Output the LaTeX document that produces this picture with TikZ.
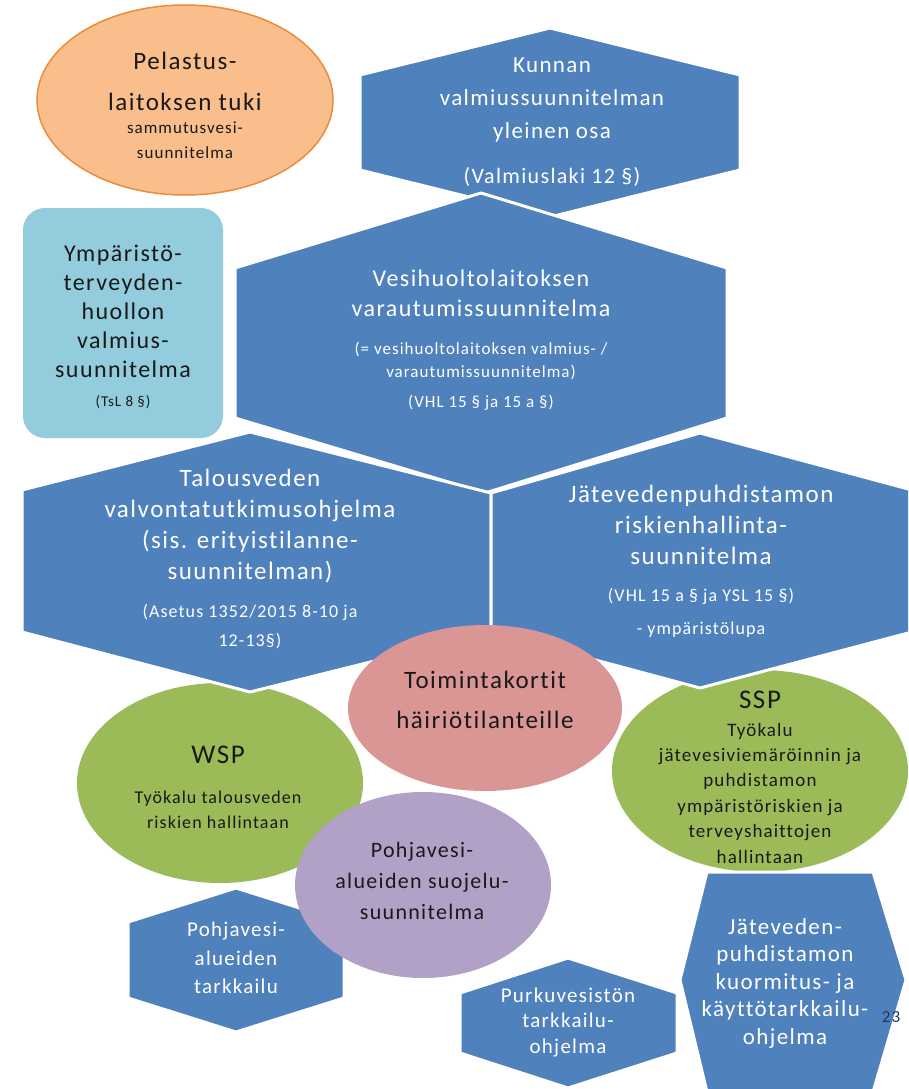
\documentclass[tikz,border=0pt]{standalone}
\usepackage{fontspec}
\setmainfont{Carlito}[LetterSpace=6.0,Ligatures=NoCommon]
\definecolor{hexblue}{RGB}{79,129,189}
\definecolor{orangefill}{RGB}{250,190,140}
\definecolor{orangeline}{RGB}{235,140,60}
\definecolor{lightbox}{RGB}{147,205,221}
\definecolor{pinkfill}{RGB}{217,150,148}
\definecolor{greenfill}{RGB}{155,187,89}
\definecolor{purplefill}{RGB}{178,161,199}
\definecolor{darktext}{RGB}{25,25,25}
\definecolor{pagenum}{RGB}{31,56,100}
\newcommand{\fsz}[2]{\fontsize{#1}{#2}\selectfont}
\tikzset{
  hexbox/.style={fill=hexblue,draw=white,line width=3pt,line join=round},
  wtext/.style={text=white,align=center,inner sep=0pt},
  dtext/.style={text=darktext,align=center,inner sep=0pt},
}
\begin{document}
\begin{tikzpicture}[x=1pt,y=-1pt]
\useasboundingbox (0,0) rectangle (908,1089);
\clip (0,0) rectangle (908,1089);
\fill[white] (0,0) rectangle (908,1089);
% top row
\draw[hexbox] (550,28) -- (740,75) -- (740,170) -- (550,217) -- (360,170) -- (360,75) -- cycle;
\draw[fill=orangefill,draw=orangeline,line width=1.5pt] (185,100) ellipse [x radius=148pt,y radius=95pt];
\fill[lightbox,rounded corners=22pt] (23,208) rectangle (223,438);
\draw[hexbox] (481,193) -- (727,268) -- (727,418) -- (485,493) -- (235,418) -- (235,268) -- cycle;
% tools under the plans
\fill[greenfill] (220,783) ellipse [x radius=143pt,y radius=100pt];
\fill[greenfill] (760,771) ellipse [x radius=148pt,y radius=101pt];
\draw[hexbox] (250,432) -- (491,493) -- (491,632) -- (250,692) -- (22,632) -- (22,490) -- cycle;
\draw[hexbox] (700,433) -- (912,490) -- (912,632) -- (700,688) -- (491,632) -- (491,493) -- cycle;
\fill[pinkfill] (485,708) ellipse [x radius=137pt,y radius=83pt];
% monitoring
\draw[hexbox] (236,888) -- (344,922) -- (344,998) -- (236,1032) -- (128,998) -- (128,922) -- cycle;
\draw[hexbox] (568,958) -- (677,993) -- (677,1053) -- (568,1088) -- (460,1053) -- (460,993) -- cycle;
\draw[hexbox] (707,872) -- (873,872) -- (906,980) -- (873,1092) -- (707,1092) -- (680,980) -- cycle;
\fill[purplefill] (423,885) ellipse [x radius=128pt,y radius=93pt];
% texts
\node[wtext,font=\fsz{23}{33}] (kunnan) at (552,100) {Kunnan\\valmiussuunnitelman\\yleinen osa};
\node[wtext,font=\fsz{22}{26}] (valmiuslaki) at (552,177) {(Valmiuslaki 12 §)};
\node[dtext,font=\fsz{25}{41}] (pelastus) at (185,81) {Pelastus-\\laitoksen tuki};
\node[dtext,font=\fsz{17}{25}] (sammutus) at (185,140) {sammutusvesi-\\suunnitelma};
\node[dtext,font=\fsz{24}{29}] (ymparisto) at (123,311) {Ympäristö-\\terveyden-\\huollon\\valmius-\\suunnitelma};
\node[dtext,font=\fsz{15}{20}] (tsl) at (123,402) {(TsL 8 §)};
\node[wtext,font=\fsz{24}{30}] (vesihuolto) at (481,293) {Vesihuoltolaitoksen\\varautumissuunnitelma};
\node[wtext,font=\fsz{17}{23}] (valmius) at (481,361) {(= vesihuoltolaitoksen valmius- /\\varautumissuunnitelma)};
\node[wtext,font=\fsz{17}{23}] (vhl) at (481,403) {(VHL 15 § ja 15 a §)};
\node[wtext,font=\fsz{25}{31}] (talousvesi) at (250,526) {Talousveden\\valvontatutkimusohjelma\\(sis. erityistilanne-\\suunnitelman)};
\node[wtext,font=\fsz{18}{29}] (asetus) at (250,627) {(Asetus 1352/2015 8-10 ja\\12-13§)};
\node[wtext,font=\fsz{25}{31}] (jatevesi) at (701,525) {Jätevedenpuhdistamon\\riskienhallinta-\\suunnitelma};
\node[wtext,font=\fsz{18}{33}] (ysl) at (701,613) {(VHL 15 a § ja YSL 15 §)\\- ympäristölupa};
\node[dtext,font=\fsz{25}{40}] (toiminta) at (485,700) {Toimintakortit\\häiriötilanteille};
\node[dtext,font=\fsz{27}{30}] (wsp) at (218,755) {WSP};
\node[dtext,font=\fsz{18}{25}] (wsptool) at (218,810) {Työkalu talousveden\\riskien hallintaan};
\node[dtext,font=\fsz{27}{30}] (ssp) at (760,700) {SSP};
\node[dtext,font=\fsz{19}{25.4}] (ssptool) at (760,793) {Työkalu\\jätevesiviemäröinnin ja\\puhdistamon\\ympäristöriskien ja\\terveyshaittojen\\hallintaan};
\node[dtext,font=\fsz{22}{31}] (suojelu) at (422,881) {Pohjavesi-\\alueiden suojelu-\\suunnitelma};
\node[wtext,font=\fsz{21}{28.5}] (pvtark) at (236,958) {Pohjavesi-\\alueiden\\tarkkailu};
\node[wtext,font=\fsz{21}{25.5}] (purku) at (568,1022) {Purkuvesistön\\tarkkailu-\\ohjelma};
\node[wtext,font=\fsz{23}{27.5}] (kuormitus) at (785,983) {Jäteveden-\\puhdistamon\\kuormitus- ja\\käyttötarkkailu-\\ohjelma};
\node[text=pagenum,inner sep=0pt,font=\fsz{17}{19}] (sivu) at (891,1017) {23};
\end{tikzpicture}
\end{document}
